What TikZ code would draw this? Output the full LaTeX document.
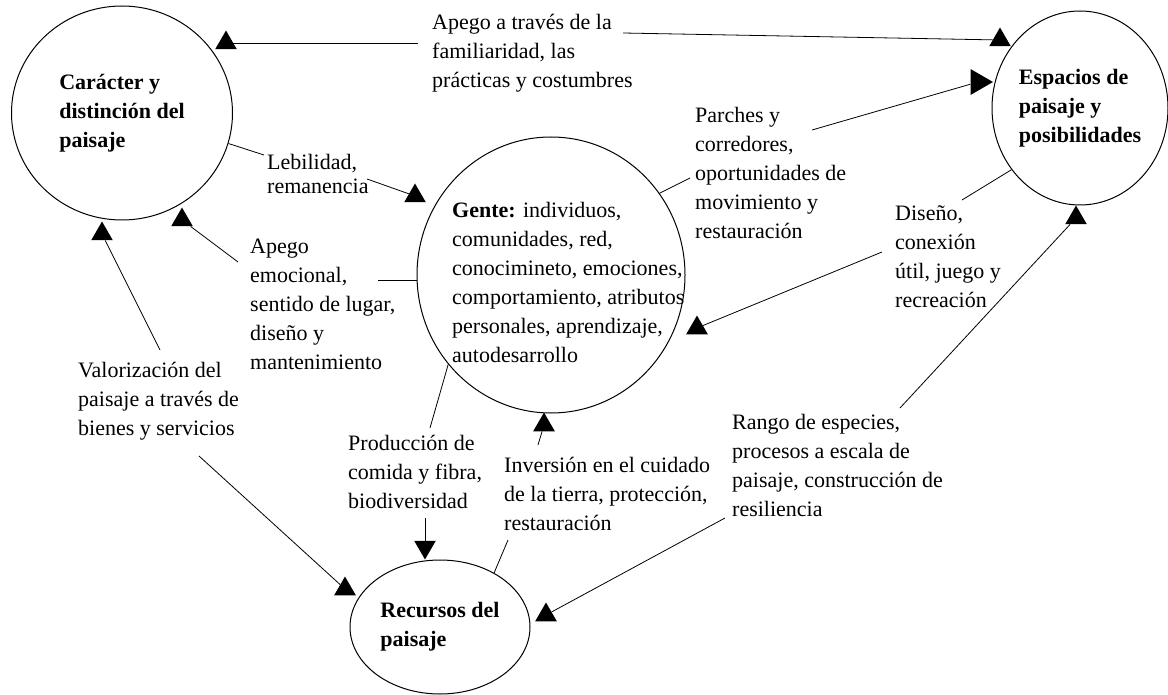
\documentclass[tikz,border=0pt]{standalone}
\usepackage{fontspec}
\setmainfont{Liberation Serif}
\usepackage{tikz}
\usetikzlibrary{shapes.geometric,calc}

\begin{document}
\begin{tikzpicture}[x=1pt, y=-1pt]
\tikzset{
  circ/.style={ellipse, draw=black, line width=1pt, inner sep=0pt, align=left,
    font=\fontsize{22}{29}\selectfont\bfseries},
  lbl/.style={anchor=north west, inner sep=3pt, align=left, font=\fontsize{22}{29}\selectfont},
  tri/.style={regular polygon, regular polygon sides=3, fill=black, inner sep=0pt, minimum size=25pt},
  ln/.style={line width=0.8pt, black}
}
\useasboundingbox (0,0) rectangle (1168,695);
\node[circ, minimum width=221pt, minimum height=214pt] (car) at (122,113) {Carácter y\\distinción del\\paisaje};
\node[circ, minimum width=268pt, minimum height=276pt] (gente) at (551,275) {};
\node[circ, minimum width=176pt, minimum height=194pt] (esp) at (1080,108) {Espacios de\\paisaje y\\posibilidades};
\node[circ, minimum width=180pt, minimum height=134pt] (rec) at (440,627) {Recursos del\\paisaje};
\node[lbl] (gtxt) at (449,199) {\textbf{Gente:} individuos,\\comunidades, red,\\conocimineto, emociones,\\comportamiento, atributos\\personales, aprendizaje,\\autodesarrollo};
\node[lbl] (lapego) at (429,11) {Apego a través de la\\familiaridad, las\\prácticas y costumbres};
\node[lbl, font=\fontsize{22}{24}\selectfont] (lleb) at (264,151) {Lebilidad,\\remanencia};
\node[lbl] (lemo) at (247,236) {Apego\\emocional,\\sentido de lugar,\\diseño y\\mantenimiento};
\node[lbl] (lval) at (75,359) {Valorización del\\paisaje a través de\\bienes y servicios};
\node[lbl] (lprod) at (345,432) {Producción de\\comida y fibra,\\biodiversidad};
\node[lbl] (linv) at (501,454) {Inversión en el cuidado\\de la tierra, protección,\\restauración};
\node[lbl] (lpar) at (692,104) {Parches y\\corredores,\\oportunidades de\\movimiento y\\restauración};
\node[lbl] (ldis) at (892,202) {Diseño,\\conexión\\útil, juego y\\recreación};
\node[lbl] (lrango) at (729,411) {Rango de especies,\\procesos a escala de\\paisaje, construcción de\\resiliencia};
% arrow heads
\node[tri] (tA) at (226,43) {};
\node[tri] (tB) at (1000,40) {};
\node[tri] (tC) at (415,196) {};
\node[tri] (tD) at (182,220) {};
\node[tri] (tE) at (102,234) {};
\node[tri] (tF) at (345,589) {};
\node[tri, shape border rotate=180] (tG) at (425,547) {};
\node[tri] (tH) at (544,425) {};
\node[tri, minimum size=30pt, shape border rotate=-90] (tI) at (978,82) {};
\node[tri] (tJ) at (697,328) {};
\node[tri] (tK) at (1076,218) {};
\node[tri] (tL) at (546,615) {};
\coordinate (emoR) at ([shift={(131,44)}]lemo.north west);
% connectors
\draw[ln] ([shift={(-11,32)}]lapego.north west) -- (tA);
\draw[ln] ([shift={(194,22)}]lapego.north west) -- (tB);
\draw[ln] (car.-16) -- ([shift={(0,4)}]lleb.north west);
\draw[ln] ([shift={(103,28)}]lleb.north west) -- (tC);
\draw[ln] ([shift={(-9,26)}]lemo.north west) -- (tD);
\draw[ln] (emoR) -- (emoR -| gente.west);
\draw[ln] ([shift={(85,-9)}]lval.north west) -- (tE);
\draw[ln] ([shift={(124,97)}]lval.north west) -- (tF);
\draw[ln] (gente.221) -- ([shift={(85,-4)}]lprod.north west);
\draw[ln] ([shift={(80,86)}]lprod.north west) -- (tG);
\draw[ln] (rec.45) -- ([shift={(7,86)}]linv.north west);
\draw[ln] ([shift={(37,-9)}]linv.north west) -- (tH);
\draw[ln] (gente.37) -- ([shift={(-2,74)}]lpar.north west);
\draw[ln] ([shift={(120,26)}]lpar.north west) -- (tI);
\draw[ln] (esp.222) -- ([shift={(70,-2)}]ldis.north west);
\draw[ln] ([shift={(-10,50)}]ldis.north west) -- (tJ);
\draw[ln] ([shift={(171,-3)}]lrango.north west) -- (tK);
\draw[ln] ([shift={(-4,107)}]lrango.north west) -- (tL);
\end{tikzpicture}
\end{document}
